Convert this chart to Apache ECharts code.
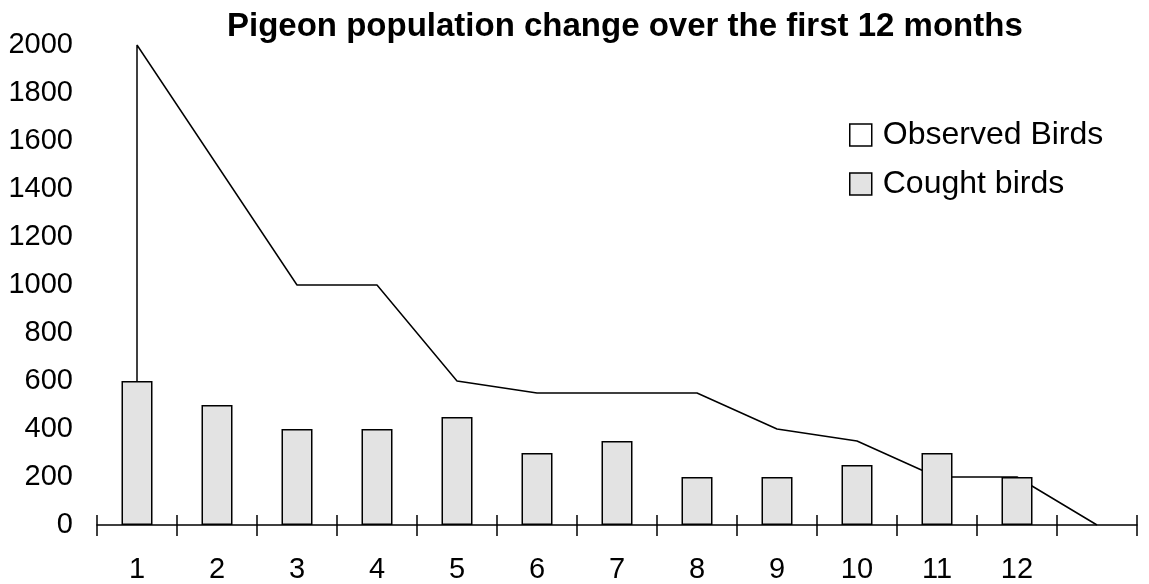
<!DOCTYPE html>
<html>
<head>
<meta charset="utf-8">
<script src="https://cdn.jsdelivr.net/npm/echarts@6/dist/echarts.min.js"></script>
<style>
html,body{margin:0;padding:0;background:#fff;}
#chart{width:1149px;height:584px;}
</style>
</head>
<body>
<div id="chart"></div>
<script>
var categories = ['1','2','3','4','5','6','7','8','9','10','11','12',''];
var observedBirds = [[0,0],[0,2000],[1,1500],[2,1000],[3,1000],[4,600],[5,550],[6,550],[7,550],[8,400],[9,350],[10,200],[11,200],[12,0]];
var coughtBirds = [600,500,400,400,450,300,350,200,200,250,300,200];
var yTicks = {min:0, max:2000, interval:200};

var FONT = '"Liberation Sans", Arial, sans-serif';
var chart = echarts.init(document.getElementById('chart'), null, {renderer:'canvas'});
chart.setOption({
  backgroundColor:'#fff',
  animation:false,
  title:{
    text:'Pigeon population change over the first 12 months',
    left:227, top:10, padding:0,
    textStyle:{fontFamily:FONT, fontSize:33, fontWeight:'bold', color:'#000'}
  },
  legend:{
    orient:'vertical',
    left:849, top:119, padding:0,
    itemWidth:22, itemHeight:22, itemGap:17,
    textStyle:{fontFamily:FONT, fontSize:32, color:'#000', padding:[0,0,0,6]},
    data:[
      {name:'Observed Birds', icon:'rect', itemStyle:{color:'#fff', borderColor:'#000', borderWidth:1.5}, lineStyle:{opacity:0, width:0}},
      {name:'Cought birds', icon:'rect', itemStyle:{color:'#e3e3e3', borderColor:'#000', borderWidth:1.5}}
    ]
  },
  grid:{left:97, right:12, top:45, bottom:59},
  xAxis:[{
    type:'category',
    data:categories,
    boundaryGap:true,
    z:5,
    axisLine:{lineStyle:{color:'#000', width:1.5}},
    axisTick:{show:true, interval:0, length:11, lineStyle:{color:'#000', width:1.5}},
    axisLabel:{fontFamily:FONT, fontSize:29, color:'#000', margin:30}
  },{
    type:'category',
    data:categories,
    position:'bottom',
    offset:-10,
    boundaryGap:true,
    z:5,
    axisLine:{show:true, lineStyle:{color:'rgba(0,0,0,0)', width:1}},
    axisTick:{show:true, interval:0, inside:false, length:10, lineStyle:{color:'#000', width:1.5}},
    axisLabel:{show:false}
  }],
  yAxis:{
    type:'value',
    min:yTicks.min, max:yTicks.max, interval:yTicks.interval,
    axisLine:{show:false},
    axisTick:{show:false},
    splitLine:{show:false},
    axisLabel:{fontFamily:FONT, fontSize:29, color:'#000', margin:24, formatter:function(v){return String(v);}}
  },
  series:[
    {
      name:'Observed Birds',
      type:'line',
      xAxisIndex:0,
      data:observedBirds,
      showSymbol:false,
      symbol:'none',
      lineStyle:{color:'#000', width:1.5},
      itemStyle:{color:'#fff', borderColor:'#000'},
      areaStyle:{color:'#fff', opacity:1},
      z:1
    },
    {
      name:'Cought birds',
      type:'bar',
      xAxisIndex:1,
      data:coughtBirds,
      barWidth:31,
      itemStyle:{color:'#e3e3e3', borderColor:'#000', borderWidth:1.5},
      z:3
    }
  ]
});
</script>
</body>
</html>
